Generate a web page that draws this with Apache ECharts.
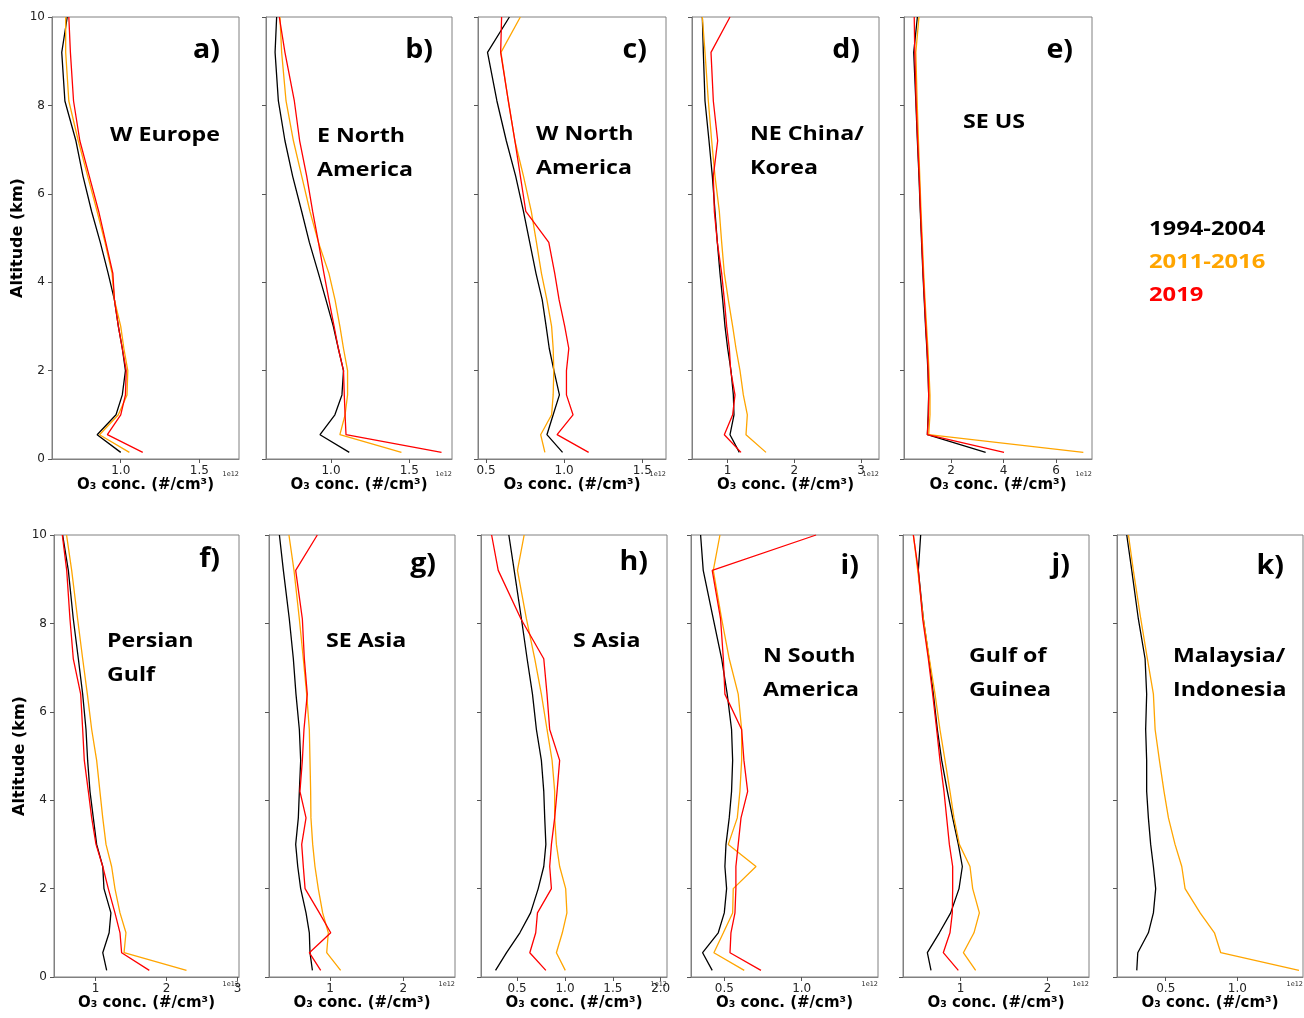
<!DOCTYPE html>
<html>
<head>
<meta charset="utf-8">
<title>O3 profiles</title>
<script src="https://cdn.jsdelivr.net/npm/echarts@6/dist/echarts.min.js"></script>
<style>
  body, html { margin: 0; padding: 0; background: #fff; }
  #chart { width: 1304px; height: 1018px; }
</style>
</head>
<body>
<div id="chart"></div>
<script>
// altitude levels (km), bottom -> top
var alt = [0.15, 0.55, 1.0, 1.45, 2.0, 2.5, 3.0, 3.6, 4.2, 4.9, 5.6, 6.4, 7.2, 8.1, 9.2, 10.0];

var periods = ['1994-2004', '2011-2016', '2019'];
var colors = ['#000000', '#ffa500', '#ff0000'];

// O3 conc. in 1e12 #/cm3, one value per altitude level
var wEurope94 = [1.00, 0.85, 0.97, 1.01, 1.03, 1.01, 0.985, 0.96, 0.92, 0.87, 0.815, 0.76, 0.715, 0.645, 0.625, 0.66];
var wEurope11 = [1.055, 0.865, 0.985, 1.04, 1.045, 1.02, 1.0, 0.96, 0.945, 0.90, 0.85, 0.79, 0.73, 0.67, 0.65, 0.65];
var wEurope19 = [1.14, 0.915, 1.0, 1.03, 1.035, 1.01, 0.985, 0.96, 0.95, 0.905, 0.86, 0.80, 0.74, 0.70, 0.68, 0.67];

var eNAm94 = [1.117, 0.93, 1.025, 1.07, 1.08, 1.047, 1.015, 0.968, 0.92, 0.862, 0.813, 0.755, 0.706, 0.664, 0.643, 0.653];
var eNAm11 = [1.45, 1.057, 1.09, 1.106, 1.106, 1.08, 1.057, 1.026, 0.987, 0.92, 0.866, 0.813, 0.76, 0.713, 0.685, 0.674];
var eNAm19 = [1.706, 1.096, 1.09, 1.085, 1.08, 1.047, 1.02, 0.987, 0.955, 0.92, 0.883, 0.845, 0.80, 0.766, 0.706, 0.67];

var wNAm94 = [0.99, 0.89, 0.93, 0.97, 0.935, 0.905, 0.885, 0.86, 0.82, 0.78, 0.74, 0.69, 0.63, 0.57, 0.51, 0.65];
var wNAm11 = [0.877, 0.85, 0.92, 0.93, 0.934, 0.93, 0.92, 0.89, 0.855, 0.823, 0.79, 0.74, 0.685, 0.643, 0.596, 0.72];
var wNAm19 = [1.157, 0.955, 1.057, 1.015, 1.015, 1.03, 1.004, 0.968, 0.94, 0.902, 0.755, 0.72, 0.685, 0.643, 0.594, 0.60];

var neChina94 = [1.175, 1.035, 1.095, 1.085, 1.05, 1.0, 0.96, 0.925, 0.885, 0.845, 0.81, 0.77, 0.72, 0.66, 0.635, 0.62];
var neChina11 = [1.575, 1.275, 1.295, 1.235, 1.185, 1.125, 1.075, 1.01, 0.95, 0.91, 0.875, 0.81, 0.76, 0.71, 0.66, 0.62];
var neChina19 = [1.2, 0.95, 1.075, 1.11, 1.045, 1.025, 0.985, 0.95, 0.91, 0.845, 0.80, 0.785, 0.85, 0.785, 0.75, 1.035];

var seUS94 = [3.32, 1.10, 1.13, 1.15, 1.12, 1.08, 1.03, 0.98, 0.93, 0.88, 0.83, 0.78, 0.72, 0.66, 0.58, 0.72];
var seUS11 = [7.04, 1.15, 1.2, 1.2, 1.16, 1.12, 1.07, 1.01, 0.96, 0.91, 0.86, 0.81, 0.76, 0.71, 0.66, 0.78];
var seUS19 = [4.02, 1.10, 1.14, 1.15, 1.13, 1.09, 1.04, 0.99, 0.94, 0.89, 0.84, 0.79, 0.73, 0.67, 0.62, 0.60];

var persGulf94 = [1.155, 1.10, 1.19, 1.215, 1.117, 1.10, 1.014, 0.967, 0.92, 0.887, 0.864, 0.817, 0.756, 0.685, 0.615, 0.535];
var persGulf11 = [2.28, 1.40, 1.427, 1.343, 1.272, 1.225, 1.146, 1.10, 1.06, 1.014, 0.944, 0.883, 0.817, 0.746, 0.662, 0.59];
var persGulf19 = [1.756, 1.366, 1.343, 1.272, 1.178, 1.10, 1.005, 0.944, 0.897, 0.84, 0.817, 0.789, 0.685, 0.638, 0.592, 0.53];

var seAsia94 = [0.76, 0.727, 0.718, 0.673, 0.60, 0.56, 0.532, 0.568, 0.582, 0.60, 0.582, 0.536, 0.50, 0.445, 0.364, 0.31];
var seAsia11 = [1.145, 0.955, 0.977, 0.90, 0.84, 0.795, 0.764, 0.74, 0.736, 0.727, 0.718, 0.682, 0.636, 0.582, 0.509, 0.44];
var seAsia19 = [0.873, 0.718, 1.01, 0.855, 0.66, 0.636, 0.614, 0.673, 0.59, 0.623, 0.645, 0.69, 0.65, 0.623, 0.532, 0.827];

var sAsia94 = [0.274, 0.389, 0.528, 0.64, 0.72, 0.778, 0.80, 0.788, 0.778, 0.753, 0.701, 0.66, 0.604, 0.545, 0.469, 0.413];
var sAsia11 = [1.003, 0.91, 0.972, 1.02, 1.007, 0.944, 0.91, 0.892, 0.892, 0.865, 0.812, 0.753, 0.684, 0.597, 0.503, 0.573];
var sAsia19 = [0.80, 0.632, 0.694, 0.712, 0.858, 0.84, 0.858, 0.892, 0.917, 0.944, 0.84, 0.812, 0.778, 0.54, 0.302, 0.233];

var nSAm94 = [0.422, 0.36, 0.461, 0.50, 0.515, 0.504, 0.511, 0.532, 0.547, 0.554, 0.547, 0.519, 0.483, 0.429, 0.364, 0.347];
var nSAm11 = [0.629, 0.433, 0.494, 0.554, 0.558, 0.705, 0.526, 0.584, 0.601, 0.612, 0.612, 0.59, 0.532, 0.483, 0.429, 0.472];
var nSAm19 = [0.737, 0.537, 0.543, 0.569, 0.575, 0.575, 0.59, 0.608, 0.651, 0.627, 0.612, 0.504, 0.494, 0.476, 0.422, 1.093];

var gGuinea94 = [0.659, 0.617, 0.755, 0.885, 0.981, 1.019, 0.973, 0.908, 0.847, 0.782, 0.732, 0.686, 0.636, 0.571, 0.513, 0.54];
var gGuinea11 = [1.172, 1.031, 1.153, 1.215, 1.138, 1.107, 0.985, 0.923, 0.877, 0.82, 0.762, 0.705, 0.64, 0.571, 0.506, 0.456];
var gGuinea19 = [0.973, 0.80, 0.877, 0.904, 0.908, 0.908, 0.87, 0.839, 0.808, 0.762, 0.724, 0.678, 0.628, 0.563, 0.513, 0.456];

var malIndo94 = [0.298, 0.305, 0.379, 0.414, 0.43, 0.414, 0.395, 0.379, 0.367, 0.367, 0.36, 0.367, 0.356, 0.309, 0.263, 0.228];
var malIndo11 = [1.43, 0.884, 0.84, 0.74, 0.635, 0.612, 0.565, 0.519, 0.488, 0.456, 0.426, 0.414, 0.372, 0.326, 0.274, 0.24];

var TOP1 = 17, TOP2 = 535, H = 442;

var panels = [
  {tag: 'a)', tagY: 51, name: ['W Europe'], nx: 110, ny: 136, left: 52, top: TOP1, width: 187, min: 0.563, max: 1.752, ticks: [1.0, 1.5], dec: 1, first: true, lines: [wEurope94, wEurope11, wEurope19]},
  {tag: 'b)', tagY: 51, name: ['E North', 'America'], nx: 317, ny: 137, left: 266, top: TOP1, width: 186, min: 0.585, max: 1.773, ticks: [1.0, 1.5], dec: 1, lines: [eNAm94, eNAm11, eNAm19]},
  {tag: 'c)', tagY: 51, name: ['W North', 'America'], nx: 536, ny: 135, left: 478, top: TOP1, width: 188, min: 0.449, max: 1.652, ticks: [0.5, 1.0, 1.5], dec: 1, lines: [wNAm94, wNAm11, wNAm19]},
  {tag: 'd)', tagY: 51, name: ['NE China/', 'Korea'], nx: 750, ny: 135, left: 692, top: TOP1, width: 187, min: 0.465, max: 3.27, ticks: [1, 2, 3], dec: 0, lines: [neChina94, neChina11, neChina19]},
  {tag: 'e)', tagY: 51, name: ['SE US'], nx: 963, ny: 123, left: 904, top: TOP1, width: 188, min: 0.21, max: 7.37, ticks: [2, 4, 6], dec: 0, lines: [seUS94, seUS11, seUS19]},
  {tag: 'f)', tagY: 560, name: ['Persian', 'Gulf'], nx: 107, ny: 642, left: 54, top: TOP2, width: 185, min: 0.413, max: 3.02, ticks: [1, 2, 3], dec: 0, first: true, lines: [persGulf94, persGulf11, persGulf19]},
  {tag: 'g)', tagY: 565, name: ['SE Asia'], nx: 326, ny: 642, left: 269, top: TOP2, width: 186, min: 0.168, max: 2.705, ticks: [1, 2], dec: 0, lines: [seAsia94, seAsia11, seAsia19]},
  {tag: 'h)', tagY: 563, name: ['S Asia'], nx: 573, ny: 642, left: 481, top: TOP2, width: 186, min: 0.122, max: 2.066, ticks: [0.5, 1.0, 1.5, 2.0], dec: 1, lines: [sAsia94, sAsia11, sAsia19]},
  {tag: 'i)', tagY: 567, name: ['N South', 'America'], nx: 763, ny: 657, left: 691, top: TOP2, width: 187, min: 0.285, max: 1.493, ticks: [0.5, 1.0], dec: 1, lines: [nSAm94, nSAm11, nSAm19]},
  {tag: 'j)', tagY: 566, name: ['Gulf of', 'Guinea'], nx: 969, ny: 657, left: 903, top: TOP2, width: 186, min: 0.337, max: 2.475, ticks: [1, 2], dec: 0, lines: [gGuinea94, gGuinea11, gGuinea19]},
  {tag: 'k)', tagY: 567, name: ['Malaysia/', 'Indonesia'], nx: 1173, ny: 657, left: 1117, top: TOP2, width: 186, min: 0.160, max: 1.458, ticks: [0.5, 1.0], dec: 1, lines: [malIndo94, malIndo11, null]}
];

var chart = echarts.init(document.getElementById('chart'));

var grids = [], xAxes = [], yAxes = [], series = [], texts = [];
var tickCol = '#555', frameCol = '#808080', labCol = '#222';

function txt(x, y, s, font, color, align, sx) {
  return {
    type: 'text', x: x, y: y, scaleX: sx || 1, silent: true,
    style: {text: s, font: font, fill: color || '#000', align: align || 'left', verticalAlign: 'middle'}
  };
}

panels.forEach(function (p, i) {
  grids.push({
    left: p.left, top: p.top, width: p.width, height: H,
    show: true, borderColor: frameCol, borderWidth: 1,
    containLabel: false, outerBoundsMode: 'none'
  });
  xAxes.push({
    type: 'value', gridIndex: i, min: p.min, max: p.max,
    axisLine: {show: true, onZero: false, lineStyle: {color: frameCol}},
    axisTick: {show: true, length: 4, lineStyle: {color: tickCol}, customValues: p.ticks},
    axisLabel: {
      show: true, customValues: p.ticks, margin: 6, fontSize: 12, color: labCol,
      fontFamily: 'DejaVu Sans',
      formatter: (function (d) { return function (v) { return Number(v).toFixed(d); }; })(p.dec)
    },
    splitLine: {show: false},
    name: 'O\u2083 conc. (#/cm\u00b3)', nameLocation: 'middle', nameGap: 17,
    nameTextStyle: {fontFamily: 'DejaVu Sans', fontWeight: 'bold', fontSize: 15, color: '#000'}
  });
  yAxes.push({
    type: 'value', gridIndex: i, min: 0, max: 10, interval: 2,
    axisLine: {show: true, onZero: false, lineStyle: {color: frameCol}},
    axisTick: {show: true, length: 4, lineStyle: {color: tickCol}},
    axisLabel: {show: !!p.first, margin: 7, fontSize: 12, color: labCol, fontFamily: 'DejaVu Sans'},
    splitLine: {show: false},
    name: p.first ? 'Altitude (km)' : '', nameLocation: 'middle', nameGap: 25,
    nameTextStyle: {fontFamily: 'DejaVu Sans', fontWeight: 'bold', fontSize: 16, color: '#000'}
  });
  p.lines.forEach(function (vals, k) {
    if (!vals) return;
    series.push({
      name: periods[k], type: 'line', xAxisIndex: i, yAxisIndex: i,
      data: alt.map(function (a, j) { return [vals[j], a]; }),
      symbol: 'none', showSymbol: false, silent: true, animation: false,
      lineStyle: {width: 1.3, color: colors[k]}, itemStyle: {color: colors[k]}
    });
  });
  // panel tag and region name
  texts.push(txt(p.left + p.width - 19, p.tagY, p.tag, 'bold 26px "Open Sans"', '#000', 'right', 1.1));
  p.name.forEach(function (line, j) {
    texts.push(txt(p.nx, p.ny + j * 34, line, 'bold 19px "Open Sans"', '#000', 'left', 1.22));
  });
  // axis offset text
  texts.push(txt(p.left + p.width, p.top === TOP1 ? 474 : 984, '1e12', '6.5px "DejaVu Sans"', '#222', 'right', 1));
});

// legend text block
periods.forEach(function (s, k) {
  texts.push(txt(1149, 230 + k * 33, s, 'bold 19px "Open Sans"', colors[k], 'left', 1.25));
});

chart.setOption({
  backgroundColor: '#ffffff',
  animation: false,
  grid: grids,
  xAxis: xAxes,
  yAxis: yAxes,
  series: series,
  graphic: {elements: texts}
});
</script>
</body>
</html>
